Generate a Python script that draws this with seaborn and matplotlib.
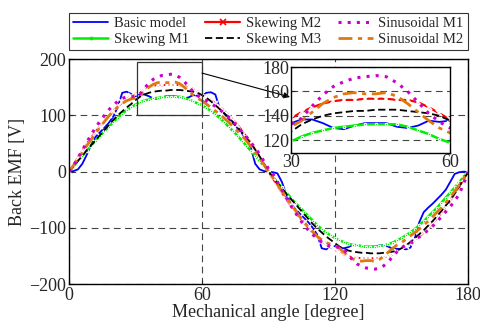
import numpy as np
import pandas as pd
import matplotlib
matplotlib.use("Agg")
import matplotlib.pyplot as plt
import seaborn as sns
from matplotlib.patches import Rectangle
from matplotlib.lines import Line2D

sns.set_style("ticks")
plt.rcParams['font.family'] = ['Liberation Serif', 'DejaVu Serif']

angle = list(range(0, 181, 2))

basic_model = [0, 1, 4, 14, 30, 48, 62, 70, 78, 87, 98, 115, 140, 142, 138, 134, 137, 137, 134, 130,
               129, 132, 134, 134, 134, 131, 130, 132, 136, 135, 136, 140, 141, 137, 112, 103, 94, 86, 77, 68,
               57, 43, 14, 4, 1, 0,
               -1, -3, -18, -40, -57, -66, -74, -82, -90, -100, -112, -136, -138, -135, -132, -135, -136, -134, -130, -130,
               -133, -134, -134, -133, -131, -131, -133, -137, -137, -137, -138, -135, -118, -90, -72, -64, -57, -49, -41, -32,
               -18, -4, -1, 0, 0]
skewing_m1 = [0, 9, 19, 28, 37, 46, 55, 64, 72, 80, 88, 96, 103, 109, 114, 119, 123, 126, 128, 130,
              131, 132, 133, 133, 133, 133, 131, 128, 125, 121, 118, 113, 108, 102, 95, 88, 80, 72, 64, 55,
              46, 37, 28, 19, 9, 0,
              -9, -19, -28, -37, -46, -55, -63, -71, -79, -87, -95, -102, -108, -113, -118, -122, -125, -128, -130, -131,
              -132, -133, -133, -133, -132, -131, -129, -126, -122, -118, -113, -108, -102, -95, -88, -80, -72, -64, -55, -46,
              -37, -28, -19, -9, 0]
skewing_m2 = [0, 12, 25, 37, 49, 60, 71, 81, 91, 100, 108, 116, 123, 129, 134, 138, 143, 147, 150, 152,
              153, 153, 154, 154, 154, 153, 153, 151, 147, 142, 137, 132, 127, 121, 115, 108, 100, 92, 83, 73,
              62, 51, 39, 26, 13, 0,
              -12, -25, -37, -49, -60, -71, -81, -91, -100, -108, -116, -123, -129, -134, -138, -143, -147, -150, -152, -153,
              -153, -154, -154, -154, -153, -153, -151, -147, -142, -137, -132, -127, -121, -115, -108, -100, -92, -83, -73, -62,
              -51, -39, -26, -13, 0]
skewing_m3 = [0, 9, 19, 28, 38, 47, 56, 65, 74, 83, 92, 100, 107, 114, 120, 127, 133, 137, 140, 142,
              143, 144, 144, 145, 145, 145, 144, 143, 142, 140, 136, 131, 125, 118, 111, 104, 96, 88, 79, 70,
              60, 50, 39, 27, 14, 1,
              -10, -20, -29, -39, -48, -57, -66, -75, -84, -93, -101, -108, -115, -121, -127, -133, -137, -140, -142, -143,
              -144, -144, -145, -145, -145, -144, -143, -142, -140, -136, -131, -125, -118, -111, -104, -96, -88, -79, -70, -60,
              -50, -39, -27, -14, -1]
sinusoidal_m1 = [0, 10, 24, 38, 52, 66, 78, 90, 100, 110, 118, 125, 130, 133, 134, 133, 138, 148, 157, 164,
                 168, 171, 172, 173, 172, 167, 160, 151, 142, 135, 130, 126, 121, 116, 110, 104, 97, 89, 80, 71,
                 62, 52, 42, 31, 18, 5,
                 -4, -18, -32, -46, -60, -72, -84, -95, -104, -112, -119, -125, -130, -133, -134, -134, -138, -148, -157, -164,
                 -168, -171, -172, -173, -172, -167, -160, -151, -142, -135, -130, -126, -121, -116, -110, -104, -97, -89, -80, -71,
                 -62, -52, -40, -22, 0]
sinusoidal_m2 = [0, 11, 23, 34, 46, 57, 68, 79, 89, 99, 107, 115, 121, 126, 129, 131, 136, 143, 150, 155,
                 158, 159, 158, 158, 159, 156, 150, 143, 136, 130, 126, 120, 114, 108, 102, 95, 88, 80, 72, 64,
                 55, 45, 35, 24, 12, 0,
                 -11, -23, -34, -46, -57, -68, -79, -89, -99, -107, -115, -121, -126, -129, -131, -136, -143, -150, -155, -158,
                 -159, -158, -158, -159, -156, -150, -143, -136, -130, -126, -120, -114, -108, -102, -95, -88, -80, -72, -64, -55,
                 -45, -35, -24, -12, 0]

labels = ["Basic model", "Skewing M1", "Skewing M2", "Skewing M3", "Sinusoidal M1", "Sinusoidal M2"]
series = [basic_model, skewing_m1, skewing_m2, skewing_m3, sinusoidal_m1, sinusoidal_m2]
styles = [
    dict(color="#0000FF", linestyle="-", linewidth=1.3),
    dict(color="#00EE00", linestyle="-", linewidth=1.8, marker=".", markersize=3.5),
    dict(color="#FF0000", linestyle="-", linewidth=1.6, marker="x", markersize=4, markeredgewidth=1.2),
    dict(color="#000000", linestyle=(0, (4, 2)), linewidth=1.3),
    dict(color="#CC00CC", linestyle=(0, (1, 2)), linewidth=2.2),
    dict(color="#E07810", linestyle=(0, (5, 2, 1.5, 2)), linewidth=2.0),
]
order = [0, 1, 2, 3, 5, 4]  # draw order

fig = plt.figure(figsize=(4.81, 3.34), dpi=100)
ax = fig.add_axes([0.1435, 0.1488, 0.8295, 0.6745])

def draw(axis):
    for i in order:
        sns.lineplot(x=angle, y=series[i], ax=axis, sort=False, estimator=None,
                     legend=False, **styles[i])

draw(ax)
ax.set_xlim(0, 180)
ax.set_ylim(-200, 200)
ax.set_xticks([0, 60, 120, 180])
ax.set_yticks([-200, -100, 0, 100, 200])
ax.grid(True, color="#444444", linestyle=(0, (6, 4)), linewidth=0.8)
ax.tick_params(direction="in", length=3, labelsize=13, pad=2)
for s in ax.spines.values():
    s.set_color("black")
    s.set_linewidth(1.0)
ax.set_xlabel("Mechanical angle [degree]", fontsize=13, labelpad=0)
ax.set_ylabel("Back EMF [V]", fontsize=13, labelpad=2)

# zoom rectangle and arrow
ax.add_patch(Rectangle((30.5, 100), 29.5, 95, fill=False, edgecolor="#333333", linewidth=0.9, zorder=5))
ax.annotate("", xy=(290 / 481, 1 - 97 / 334), xycoords="figure fraction",
            xytext=(60, 175), textcoords="data",
            arrowprops=dict(arrowstyle="-|>", color="black", lw=0.8, mutation_scale=9,
                            shrinkA=0, shrinkB=0), zorder=6)

# inset
ins = fig.add_axes([291 / 481, 1 - 153 / 334, 159 / 481, 86 / 334])
ins.set_facecolor("white")
draw(ins)
ins.set_xlim(30, 60)
ins.set_ylim(109.5, 180)
ins.set_xticks([30, 60])
ins.set_yticks([120, 140, 160, 180])
ins.grid(True, axis="y", color="#444444", linestyle=(0, (6, 4)), linewidth=0.8)
ins.tick_params(direction="in", length=3, labelsize=13, pad=1)
for s in ins.spines.values():
    s.set_color("black")
    s.set_linewidth(1.0)
ins.set_xlabel("")
ins.set_ylabel("")

# legend
handles = [Line2D([], [], **styles[i]) for i in range(6)]
leg = fig.legend(handles, labels, loc="lower left",
                 bbox_to_anchor=(69 / 481, 1 - 50 / 334, 399 / 481, 45 / 334),
                 mode="expand", ncol=3, fontsize=10.5, frameon=True, fancybox=False,
                 edgecolor="black", handlelength=2.4, handletextpad=0.4,
                 labelspacing=0.15, borderaxespad=0, borderpad=0.3, columnspacing=0.8)
leg.get_frame().set_linewidth(0.8)

fig.savefig("out.png", dpi=100)
